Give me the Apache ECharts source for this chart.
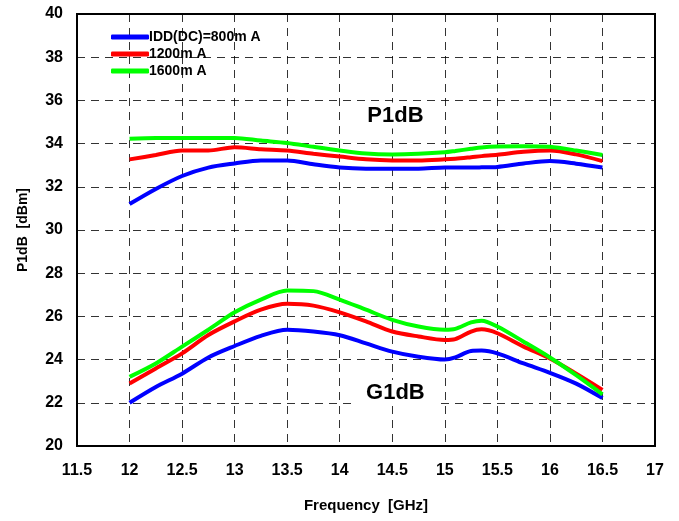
<!DOCTYPE html>
<html><head><meta charset="utf-8">
<script src="https://cdn.jsdelivr.net/npm/echarts@6/dist/echarts.min.js"></script>
<style>html,body{margin:0;padding:0;background:#fff}#c{width:679px;height:521px}</style>
</head><body><div id="c"></div>
<script>
const freq = [12,12.25,12.5,12.75,13,13.25,13.5,13.75,14,14.25,14.5,14.75,15,15.1,15.25,15.35,15.5,15.75,16,16.25,16.5];
const p1dB_800  = [31.2,31.9,32.5,32.89,33.08,33.22,33.22,33.04,32.89,32.84,32.84,32.84,32.89,32.89,32.89,32.9,32.92,33.08,33.19,33.07,32.89];
const p1dB_1200 = [33.27,33.47,33.68,33.68,33.83,33.74,33.68,33.53,33.4,33.27,33.22,33.22,33.27,33.3,33.37,33.42,33.48,33.62,33.68,33.5,33.19];
const p1dB_1600 = [34.23,34.26,34.26,34.26,34.26,34.14,34.03,33.85,33.68,33.54,33.5,33.53,33.6,33.66,33.76,33.82,33.86,33.88,33.85,33.68,33.47];
const g1dB_800  = [22.0,22.73,23.35,24.1,24.63,25.1,25.38,25.3,25.13,24.75,24.37,24.13,24.0,24.1,24.4,24.42,24.29,23.82,23.39,22.89,22.22];
const g1dB_1200 = [22.89,23.59,24.29,25.14,25.77,26.31,26.58,26.5,26.19,25.77,25.3,25.07,24.91,24.95,25.3,25.4,25.22,24.6,24.05,23.35,22.6];
const g1dB_1600 = [23.2,23.82,24.6,25.38,26.19,26.78,27.2,27.17,26.78,26.31,25.84,25.53,25.38,25.42,25.72,25.8,25.53,24.83,24.1,23.28,22.39];
const seriesNames = ['IDD(DC)=800m A','1200m A','1600m A'];
const colors = ['#0000ff','#ff0000','#00ff00'];
const xTicks = ['11.5','12','12.5','13','13.5','14','14.5','15','15.5','16','16.5','17'];
const annotations = [{text:'P1dB', x:14.53, y:35.3},{text:'G1dB', x:14.53, y:22.45}];

const pair = (ys) => freq.map((f,i)=>[f, ys[i]]);
const groups = [[p1dB_800,p1dB_1200,p1dB_1600],[g1dB_800,g1dB_1200,g1dB_1600]];
const series = [];
groups.forEach(g => g.forEach((ys,k) => series.push({
  name: seriesNames[k], type:'line', data: pair(ys), showSymbol:false, smooth:0.3,
  lineStyle:{color:colors[k], width:4}, itemStyle:{color:colors[k]}, z: 3
})));
const font = 'Liberation Sans, Arial, sans-serif';
const chart = echarts.init(document.getElementById('c'), null, {renderer:'canvas'});
chart.setOption({
  animation:false,
  backgroundColor:'#fff',
  grid:{left:77,right:24,top:14,bottom:75,show:true,borderColor:'#000',borderWidth:2,backgroundColor:'transparent'},
  legend:{
    data: seriesNames, orient:'vertical', left:106, top:25, itemWidth:38, itemHeight:5, itemGap:3,
    icon:'roundRect',
    textStyle:{fontFamily:font, fontWeight:'bold', fontSize:14, color:'#000', padding:[0,0,0,-5]}
  },
  xAxis:{
    type:'value', min:11.5, max:17, interval:0.5,
    axisLine:{show:false}, axisTick:{show:false},
    axisLabel:{margin:17, fontFamily:font, fontWeight:'bold', fontSize:16, color:'#000',
      formatter:(v)=>{ const s = String(+v.toFixed(1)); return xTicks.includes(s)?s:''; }},
    splitLine:{show:true, lineStyle:{color:'#000', type:[8,6], width:1, opacity:0.8}},
    name:'Frequency  [GHz]', nameLocation:'middle', nameGap:52,
    nameTextStyle:{fontFamily:font, fontWeight:'bold', fontSize:15, color:'#000'}
  },
  yAxis:{
    type:'value', min:20, max:40, interval:2,
    axisLine:{show:false}, axisTick:{show:false},
    axisLabel:{margin:14, fontFamily:font, fontWeight:'bold', fontSize:16, color:'#000'},
    splitLine:{show:true, lineStyle:{color:'#000', type:[8,6], width:1, opacity:0.8}},
    name:'P1dB  [dBm]', nameLocation:'middle', nameGap:47,
    nameTextStyle:{fontFamily:font, fontWeight:'bold', fontSize:14, color:'#000'}
  },
  series: series
});
const gr = annotations.map(a => {
  const p = chart.convertToPixel({gridIndex:0}, [a.x, a.y]);
  return {type:'text', x:p[0], y:p[1], z:10,
    style:{text:a.text, fill:'#000', font:'bold 22px '+font, textAlign:'center', textVerticalAlign:'middle',
      backgroundColor:'#fff', padding:[2,12]}};
});
chart.setOption({graphic: gr});
</script></body></html>
